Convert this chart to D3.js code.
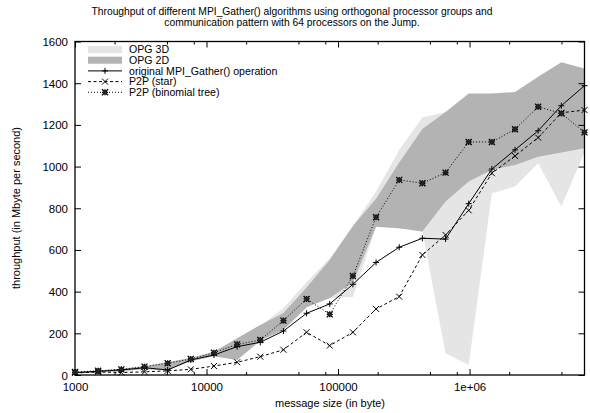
<!DOCTYPE html>
<html><head><meta charset="utf-8">
<script src="https://cdn.jsdelivr.net/npm/d3@7"></script>
<style>
body{margin:0;background:#fff}
svg{display:block}
text{font-family:"Liberation Sans",Arial,Helvetica,sans-serif;fill:#000}
</style>
</head><body>
<svg id="c" width="590" height="413"></svg>
<script>
// message sizes (byte)
const sizes = [1000, 1500, 2250, 3375, 5063, 7594, 11391, 17086, 25629, 38443, 57665, 86498,
  129746, 194620, 291929, 437894, 656841, 985261, 1477892, 2216838, 3325257, 4987885, 7481828];
// OPG 3D band (light grey)
const opg3dLow  = [8, 12, 18, 28, 24, 66, 90, 72, 165, 216, 325, 369, 374, 711, 704, 688, 104, 48, 872, 904, 1016, 808, 1070];
const opg3dHigh = [14, 20, 28, 40, 58, 80, 108, 170, 235, 322, 445, 560, 715, 880, 1080, 1235, 1262, 1300, 1320, 1330, 1400, 1450, 1450];
// OPG 2D band (dark grey)
const opg2dLow  = [8, 12, 18, 28, 24, 66, 90, 72, 165, 216, 325, 369, 445, 711, 704, 688, 832, 928, 985, 1008, 1047, 1068, 1088];
const opg2dHigh = [16, 22, 30, 42, 62, 82, 112, 176, 240, 298, 420, 552, 715, 845, 1020, 1180, 1262, 1351, 1351, 1358, 1431, 1500, 1471];
// lines
const original    = [11, 18, 24, 35, 24, 72, 96, 136, 157, 211, 296, 341, 435, 540, 613, 656, 652, 822, 988, 1080, 1172, 1292, 1388];
const p2pStar     = [10, 14, 12, 15, 20, 27, 43, 61, 88, 121, 205, 141, 205, 317, 376, 576, 672, 790, 968, 1051, 1139, 1258, 1271];
const p2pBinomial = [14, 20, 27, 40, 56, 77, 107, 147, 168, 261, 365, 291, 475, 757, 936, 920, 971, 1118, 1118, 1179, 1287, 1255, 1164];
// ticks
const yTicks = [0, 200, 400, 600, 800, 1000, 1200, 1400, 1600];
const xMajor = [1000, 10000, 100000, 1000000];
const xMajorLabels = ["1000", "10000", "100000", "1e+06"];
const xMinor = [2000, 5000, 8000, 20000, 50000, 80000, 200000, 500000, 800000, 2000000, 5000000];
const legendNames = ["OPG 3D", "OPG 2D", "original MPI_Gather() operation", "P2P (star)", "P2P (binomial tree)"];
const titleLines = ["Throughput of different MPI_Gather() algorithms using orthogonal processor groups and",
                    "communication pattern with 64 processors on the Jump."];

const svg = d3.select("#c");
const L = 75, R = 584.5, T = 41.5, B = 375;
const x = d3.scaleLog().domain([sizes[0], sizes[sizes.length-1]]).range([L, R]);
const y = d3.scaleLinear().domain([0, 1600]).range([B, T]);

const light = "#e5e5e5", dark = "#b3b3b3";

// bands
const area = (lo, hi) => d3.area().x((d,i)=>x(sizes[i])).y0((d,i)=>y(lo[i])).y1((d,i)=>y(hi[i]));
svg.append("path").attr("d", area(opg3dLow, opg3dHigh)(sizes)).attr("fill", light);
svg.append("path").attr("d", area(opg2dLow, opg2dHigh)(sizes)).attr("fill", dark);

// axes via d3
const gB = svg.append("g").attr("transform", `translate(0,${B})`)
  .call(d3.axisBottom(x).tickValues(xMajor).tickSize(-6).tickPadding(8).tickFormat((d,i)=>xMajorLabels[i]));
const gBm = svg.append("g").attr("transform", `translate(0,${B})`)
  .call(d3.axisBottom(x).tickValues(xMinor).tickSize(-3).tickFormat(""));
const gT = svg.append("g").attr("transform", `translate(0,${T})`)
  .call(d3.axisTop(x).tickValues(xMajor).tickSize(-6).tickFormat(""));
const gTm = svg.append("g").attr("transform", `translate(0,${T})`)
  .call(d3.axisTop(x).tickValues(xMinor).tickSize(-3).tickFormat(""));
const gL = svg.append("g").attr("transform", `translate(${L},0)`)
  .call(d3.axisLeft(y).tickValues(yTicks).tickSize(-6).tickPadding(7).tickFormat(d3.format("d")));
const gR = svg.append("g").attr("transform", `translate(${R},0)`)
  .call(d3.axisRight(y).tickValues(yTicks).tickSize(-6).tickFormat(""));
[gB,gBm,gT,gTm,gL,gR].forEach(g=>{
  g.select(".domain").remove();
  g.selectAll("line").attr("stroke","#000").attr("stroke-width",1);
  g.selectAll("text").attr("font-size","11.5px").attr("font-family",'"Liberation Sans",Arial,sans-serif').attr("fill","#000");
});
gL.selectAll("text").attr("dy","0.35em");
gB.selectAll("text").attr("dy","0.71em");

// frame
svg.append("rect").attr("x",L).attr("y",T).attr("width",R-L).attr("height",B-T)
  .attr("fill","none").attr("stroke","#000").attr("stroke-width",1.3);

// lines
const line = vals => d3.line().x((d,i)=>x(sizes[i])).y((d,i)=>y(vals[i]))(sizes);
const series = [
  {vals: original, dash: null, mark: "plus"},
  {vals: p2pStar, dash: "3,2.5", mark: "cross"},
  {vals: p2pBinomial, dash: "1,2", mark: "star"}
];
function marker(g, cx, cy, type){
  const s = 3;
  let d = "";
  if (type==="plus"||type==="star") d += `M${cx-s},${cy}H${cx+s}M${cx},${cy-s}V${cy+s}`;
  if (type==="cross"||type==="star") d += `M${cx-s},${cy-s}L${cx+s},${cy+s}M${cx-s},${cy+s}L${cx+s},${cy-s}`;
  g.append("path").attr("d", d).attr("stroke","#000").attr("stroke-width", type==="star"?1.3:1).attr("fill","none");
  if (type==="star") g.append("rect").attr("x",cx-2).attr("y",cy-2).attr("width",4).attr("height",4).attr("fill","#222");
}
series.forEach(s=>{
  svg.append("path").attr("d", line(s.vals)).attr("fill","none").attr("stroke","#000")
    .attr("stroke-width",1).attr("stroke-dasharray", s.dash);
  const g = svg.append("g");
  s.vals.forEach((v,i)=>marker(g, x(sizes[i]), y(v), s.mark));
});

// legend
const lg = svg.append("g");
const rowY = [49.5, 60.2, 70.9, 81.6, 92.3];
const sx0 = 88, sx1 = 122;
lg.append("rect").attr("x",sx0).attr("y",rowY[0]-3.5).attr("width",sx1-sx0).attr("height",7).attr("fill",light);
lg.append("rect").attr("x",sx0).attr("y",rowY[1]-3.5).attr("width",sx1-sx0).attr("height",7).attr("fill",dark);
series.forEach((s,k)=>{
  const yy = rowY[k+2];
  lg.append("line").attr("x1",sx0).attr("x2",sx1).attr("y1",yy).attr("y2",yy)
    .attr("stroke","#000").attr("stroke-width",1).attr("stroke-dasharray", s.dash);
  marker(lg, (sx0+sx1)/2, yy, s.mark);
});
legendNames.forEach((n,k)=>{
  lg.append("text").attr("x",129).attr("y",rowY[k]).attr("dy","0.35em").attr("font-size","10.6px").text(n);
});

// title
titleLines.forEach((t,k)=>{
  svg.append("text").attr("x",292).attr("y",15+k*11).attr("text-anchor","middle").attr("font-size","10.3px").text(t);
});
// axis labels
svg.append("text").attr("x",330).attr("y",407).attr("text-anchor","middle").attr("font-size","11px").text("message size (in byte)");
svg.append("text").attr("transform","translate(20,208) rotate(-90)").attr("text-anchor","middle").attr("font-size","11px").text("throughput (in Mbyte per second)");
</script>
</body></html>
